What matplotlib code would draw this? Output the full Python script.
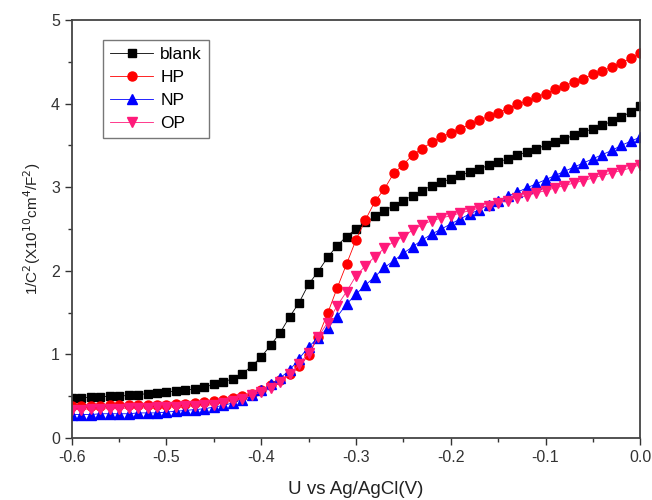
import numpy as np
import matplotlib
matplotlib.use("Agg")
import matplotlib.pyplot as plt
from matplotlib.ticker import MultipleLocator

plt.rcParams['font.family'] = ['Liberation Sans', 'DejaVu Sans']

# potential (V vs Ag/AgCl), one reading every 10 mV
u = [-0.60, -0.59, -0.58, -0.57, -0.56, -0.55, -0.54, -0.53, -0.52, -0.51,
     -0.50, -0.49, -0.48, -0.47, -0.46, -0.45, -0.44, -0.43, -0.42, -0.41,
     -0.40, -0.39, -0.38, -0.37, -0.36, -0.35, -0.34, -0.33, -0.32, -0.31,
     -0.30, -0.29, -0.28, -0.27, -0.26, -0.25, -0.24, -0.23, -0.22, -0.21,
     -0.20, -0.19, -0.18, -0.17, -0.16, -0.15, -0.14, -0.13, -0.12, -0.11,
     -0.10, -0.09, -0.08, -0.07, -0.06, -0.05, -0.04, -0.03, -0.02, -0.01,
     0.00]

blank = [0.48, 0.48, 0.49, 0.49, 0.50, 0.50, 0.51, 0.52, 0.53, 0.54,
         0.55, 0.56, 0.57, 0.59, 0.61, 0.64, 0.67, 0.71, 0.77, 0.86,
         0.97, 1.11, 1.26, 1.45, 1.62, 1.84, 1.99, 2.16, 2.30, 2.41,
         2.50, 2.58, 2.65, 2.72, 2.78, 2.84, 2.90, 2.96, 3.02, 3.06,
         3.10, 3.14, 3.18, 3.22, 3.26, 3.30, 3.34, 3.38, 3.42, 3.46,
         3.50, 3.54, 3.58, 3.62, 3.66, 3.70, 3.74, 3.79, 3.84, 3.90,
         3.97]

hp = [0.38, 0.38, 0.38, 0.38, 0.39, 0.39, 0.39, 0.39, 0.40, 0.40,
      0.40, 0.41, 0.41, 0.42, 0.43, 0.44, 0.46, 0.48, 0.50, 0.53,
      0.57, 0.63, 0.69, 0.77, 0.86, 0.99, 1.21, 1.49, 1.79, 2.08,
      2.37, 2.61, 2.83, 2.98, 3.17, 3.27, 3.39, 3.46, 3.54, 3.60,
      3.65, 3.70, 3.75, 3.80, 3.85, 3.89, 3.94, 3.99, 4.03, 4.08,
      4.12, 4.17, 4.21, 4.26, 4.30, 4.35, 4.39, 4.44, 4.49, 4.54,
      4.60]

np_ = [0.28, 0.28, 0.28, 0.29, 0.29, 0.29, 0.29, 0.30, 0.30, 0.30,
       0.31, 0.32, 0.33, 0.34, 0.35, 0.37, 0.39, 0.42, 0.46, 0.51,
       0.57, 0.64, 0.72, 0.81, 0.95, 1.09, 1.20, 1.31, 1.45, 1.60,
       1.72, 1.83, 1.93, 2.04, 2.12, 2.21, 2.29, 2.37, 2.44, 2.50,
       2.56, 2.62, 2.68, 2.73, 2.79, 2.84, 2.89, 2.94, 2.99, 3.04,
       3.09, 3.14, 3.19, 3.24, 3.29, 3.34, 3.39, 3.44, 3.50, 3.55,
       3.60]

op = [0.34, 0.34, 0.35, 0.35, 0.35, 0.35, 0.36, 0.36, 0.36, 0.37,
      0.37, 0.37, 0.38, 0.38, 0.39, 0.40, 0.42, 0.44, 0.47, 0.51,
      0.55, 0.60, 0.67, 0.76, 0.88, 1.02, 1.21, 1.38, 1.58, 1.75,
      1.94, 2.06, 2.17, 2.27, 2.35, 2.41, 2.49, 2.55, 2.60, 2.63,
      2.66, 2.69, 2.72, 2.75, 2.78, 2.81, 2.84, 2.87, 2.90, 2.93,
      2.96, 2.99, 3.02, 3.05, 3.08, 3.11, 3.14, 3.17, 3.20, 3.23,
      3.27]

fig = plt.figure(figsize=(6.52, 5.0), dpi=100)
ax = fig.add_axes([0.110, 0.124, 0.872, 0.836])

ax.plot(u, blank, color='black', marker='s', ms=5.5, lw=0.6, label='blank')
ax.plot(u, hp, color='#ff0000', marker='o', ms=6.5, lw=0.6, label='HP')
ax.plot(u, np_, color='#0000ff', marker='^', ms=6.5, lw=0.6, label='NP')
ax.plot(u, op, color='#ff1a7a', marker='v', ms=6.5, lw=0.6, label='OP')

ax.set_xlim(-0.6, 0.0)
ax.set_ylim(0, 5)
ax.xaxis.set_minor_locator(MultipleLocator(0.05))
ax.yaxis.set_major_locator(MultipleLocator(1))
ax.yaxis.set_minor_locator(MultipleLocator(0.5))
ax.set_xticks(np.round(np.arange(-0.6, 0.01, 0.1), 1))
ax.set_xticklabels(['-0.6', '-0.5', '-0.4', '-0.3', '-0.2', '-0.1', '0.0'])
ax.tick_params(which='major', direction='out', length=5, width=1, labelsize=11.5, colors='#333333')
ax.tick_params(which='minor', direction='out', length=3, width=1, colors='#333333')
for s in ax.spines.values():
    s.set_color('#444444')
    s.set_linewidth(1.3)

ax.set_xlabel('U vs Ag/AgCl(V)', fontsize=13.5, color='#222222', labelpad=12)
ax.set_ylabel('1/C$^2$(X10$^{10}$cm$^4$/F$^2$)', fontsize=11, color='#222222', labelpad=6)

leg = ax.legend(loc='upper left', bbox_to_anchor=(0.055, 0.952), borderaxespad=0,
                fontsize=12.5, frameon=True, fancybox=False, handlelength=2.5,
                borderpad=0.4, labelspacing=0.45, handletextpad=0.4)
leg.get_frame().set_edgecolor('#555555')
leg.get_frame().set_linewidth(1.0)

fig.savefig('out.png', dpi=100)
